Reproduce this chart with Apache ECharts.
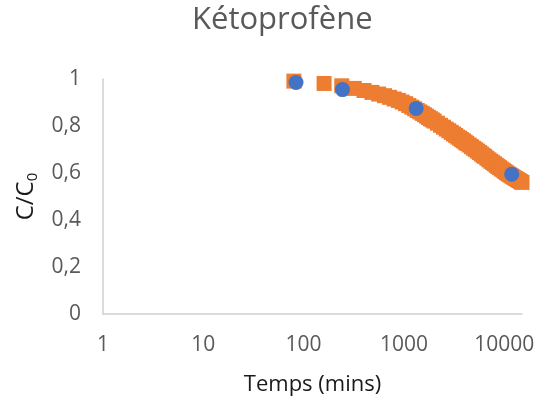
<!DOCTYPE html>
<html><head><meta charset="utf-8">
<script src="https://cdn.jsdelivr.net/npm/echarts@6/dist/echarts.min.js"></script>
<style>html,body{margin:0;padding:0;background:#fff}#c{width:547px;height:405px}</style>
</head><body><div id="c"></div>
<script>
const titleText = 'Kétoprofène';
const xName = 'Temps (mins)';
const xTickLabels = [1, 10, 100, 1000, 10000];
const yTickLabels = [0, 0.2, 0.4, 0.6, 0.8, 1];
// Orange squares (model curve)
const modelTimes = [80,160,240,320,400,480,560,640,720,800,880,960,1040,1120,1200,1280,1360,1440,1520,1600,1680,1760,1840,1920,2000,2160,2320,2480,2640,2800,2960,3120,3280,3440,3600,3760,3920,4080,4240,4480,4720,4960,5200,5440,5680,5920,6160,6400,6720,7040,7360,7680,8000,8320,8640,8960,9360,9760,10160,10560,10960,11360,11760,12160,12560,13040,13520,14000,14480,15040];
const modelValues = [0.991,0.981,0.971,0.960,0.951,0.943,0.936,0.929,0.922,0.915,0.909,0.902,0.895,0.887,0.880,0.873,0.866,0.860,0.854,0.848,0.842,0.836,0.831,0.826,0.821,0.812,0.803,0.795,0.787,0.780,0.773,0.766,0.760,0.753,0.748,0.742,0.737,0.731,0.726,0.719,0.712,0.705,0.699,0.693,0.687,0.681,0.675,0.670,0.663,0.656,0.650,0.644,0.639,0.633,0.628,0.623,0.617,0.612,0.606,0.601,0.596,0.592,0.588,0.584,0.580,0.576,0.572,0.568,0.564,0.560];
// Blue circles (measured)
const expTimes = [84, 244, 1324, 11885];
const expValues = [0.985, 0.955, 0.875, 0.595];

const FONT = 'Open Sans';
const chart = echarts.init(document.getElementById('c'), null, {renderer: 'canvas'});
chart.setOption({
  animation: false,
  backgroundColor: '#ffffff',
  title: {
    text: titleText, left: 187, top: 0,
    textStyle: {fontFamily: FONT, fontSize: 31, fontWeight: 'normal', color: '#595959'}
  },
  grid: {left: 103, right: 25, top: 79, bottom: 91, containLabel: false},
  xAxis: {
    type: 'log', logBase: 10, min: 1, max: 15040,
    name: xName, nameLocation: 'middle', nameGap: 60,
    nameTextStyle: {fontFamily: FONT, fontSize: 22, color: '#1a1a1a'},
    axisLine: {show: true, lineStyle: {color: '#d0d0d0', width: 1.5}},
    axisTick: {show: false},
    splitLine: {show: false},
    axisLabel: {
      margin: 21, fontFamily: FONT, fontSize: 21, color: '#595959',
      formatter: function (v) {
        const l = Math.log10(v);
        if (Math.abs(l - Math.round(l)) > 1e-6) return '';
        const r = Math.round(v);
        return xTickLabels.indexOf(r) >= 0 ? String(r) : '';
      }
    }
  },
  yAxis: {
    type: 'value', min: 0, max: 1, interval: 0.2,
    name: '{a|C/C}{b|0}', nameLocation: 'middle', nameGap: 62, nameRotate: 90,
    nameTextStyle: {
      color: '#1a1a1a',
      rich: {
        a: {fontFamily: FONT, fontSize: 24, color: '#1a1a1a'},
        b: {fontFamily: FONT, fontSize: 15, color: '#1a1a1a', padding: [13, 0, 0, 0]}
      }
    },
    axisLine: {show: true, lineStyle: {color: '#d0d0d0', width: 1.5}},
    axisTick: {show: false},
    splitLine: {show: false},
    axisLabel: {
      margin: 22, fontFamily: FONT, fontSize: 21, color: '#595959',
      formatter: function (v) {
        const r = Math.round(v * 10) / 10;
        return yTickLabels.indexOf(r) >= 0 ? String(r).replace('.', ',') : '';
      }
    }
  },
  series: [
    {
      type: 'scatter', symbol: 'rect', symbolSize: 15,
      itemStyle: {color: '#ED7D31', opacity: 1},
      data: modelTimes.map((t, i) => [t, modelValues[i]]),
      z: 2
    },
    {
      type: 'scatter', symbol: 'circle', symbolSize: 15,
      itemStyle: {color: '#4472C4', opacity: 1},
      data: expTimes.map((t, i) => [t, expValues[i]]),
      z: 3
    }
  ]
});
</script></body></html>
